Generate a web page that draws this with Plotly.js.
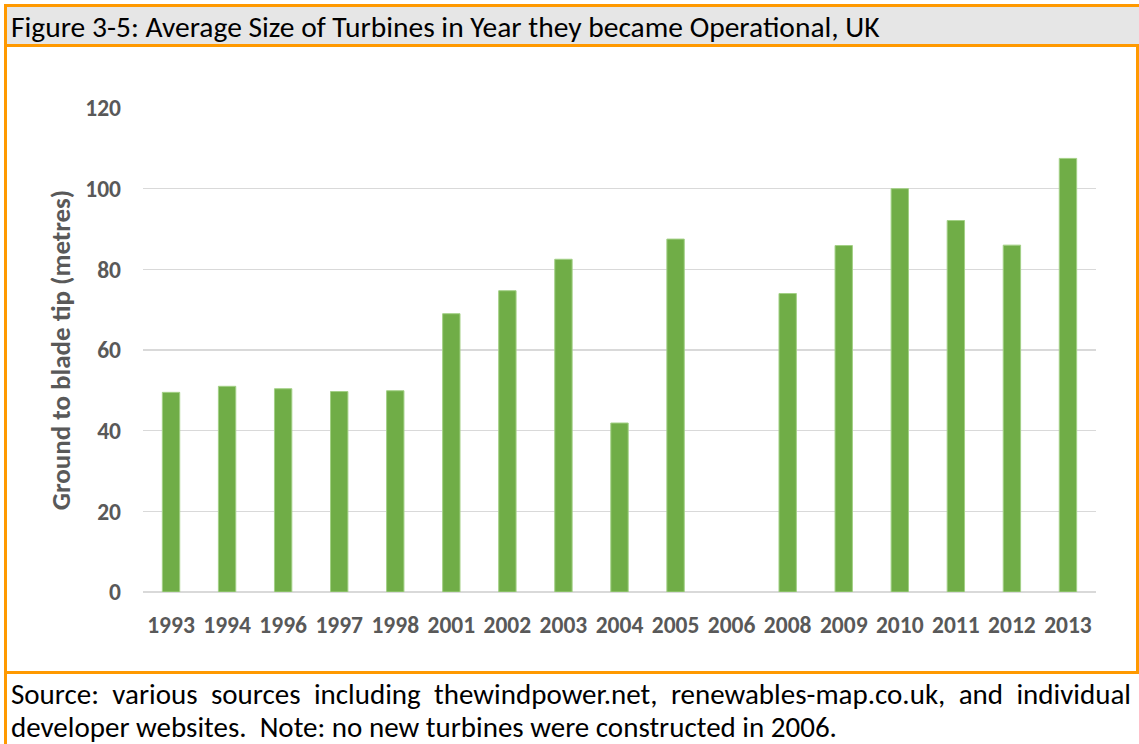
<!DOCTYPE html>
<html>
<head>
<meta charset="utf-8">
<script src="https://cdn.plot.ly/plotly-3.0.1.min.js"></script>
<style>
  html, body { margin: 0; padding: 0; background: #ffffff; }
  #chart { width: 1139px; height: 744px; }
</style>
</head>
<body>
<div id="chart"></div>
<script>
// ---- data ----
const years = ["1993","1994","1996","1997","1998","2001","2002","2003","2004","2005","2006","2008","2009","2010","2011","2012","2013"];
// 2006: no new turbines constructed -> no bar
const heights = [49.5, 51.0, 50.4, 49.7, 49.9, 69.0, 74.7, 82.5, 41.9, 87.5, null, 74.0, 85.9, 100.0, 92.1, 86.0, 107.5];
const yTicks = [0, 20, 40, 60, 80, 100, 120];
const titleText = "Figure 3-5: Average Size of Turbines in Year they became Operational, UK";
const yTitle = "Ground to blade tip (metres)";
const sourceLine1 = "Source: various sources including thewindpower.net, renewables-map.co.uk, and individual";
const sourceLine2 = "developer websites.  Note: no new turbines were constructed in 2006.";

// ---- layout geometry (pixels) ----
const W = 1139, H = 744;
const L = 143, R = 1096, T = 108, B = 592;
const px = x => (x - L) / (R - L);
const py = y => (B - y) / (B - T);
const FONT = "Carlito, Calibri, Lato, sans-serif";
const ORANGE = "#ff9900";

function rect(x0, y0, x1, y1, color) {
  return {type: "rect", xref: "paper", yref: "paper", layer: "above",
          x0: px(x0), x1: px(x1), y0: py(y1), y1: py(y0),
          fillcolor: color, line: {width: 0}};
}

const shapes = [
  rect(4, 4, W, 47, "#e6e6e6"),
  rect(4, 4, W, 7, ORANGE),
  rect(4, 44, W, 47, ORANGE),
  rect(4, 4, 7, H, ORANGE),
  rect(1136, 44, 1139, 674, ORANGE),
  rect(4, 671, W, 674, ORANGE)
];

const annotations = [
  {text: titleText, xref: "paper", yref: "paper", x: px(9), y: py(27),
   xanchor: "left", yanchor: "middle", showarrow: false,
   font: {family: FONT, size: 29.5, color: "#000000"}},
  {text: sourceLine1, xref: "paper", yref: "paper", x: px(9), y: py(694),
   xanchor: "left", yanchor: "middle", showarrow: false,
   font: {family: FONT, size: 29, color: "#000000"}},
  {text: sourceLine2, xref: "paper", yref: "paper", x: px(9), y: py(727),
   xanchor: "left", yanchor: "middle", showarrow: false,
   font: {family: FONT, size: 29, color: "#000000"}}
];

const trace = {
  type: "bar",
  x: years,
  y: heights,
  marker: {color: "#70ad47", line: {color: "#a3d086", width: 1}},
  hoverinfo: "x+y"
};

const layout = {
  width: W, height: H,
  margin: {l: L, r: W - R, t: T, b: H - B, pad: 0},
  paper_bgcolor: "#ffffff",
  plot_bgcolor: "#ffffff",
  showlegend: false,
  bargap: 0.69,
  font: {family: FONT, color: "#595959"},
  xaxis: {
    type: "category",
    showgrid: false, zeroline: false, showline: false,
    ticks: "", ticklabelstandoff: 16,
    tickfont: {family: FONT, size: 23.5, color: "#595959", weight: "bold"},
    fixedrange: true
  },
  yaxis: {
    range: [0, 120],
    tickvals: yTicks,
    ticktext: yTicks.map(String),
    showgrid: true, gridcolor: "#d9d9d9", gridwidth: 1.5,
    zeroline: true, zerolinecolor: "#d9d9d9", zerolinewidth: 1.5,
    showline: false, ticks: "", ticklabelstandoff: 21,
    tickfont: {family: FONT, size: 23.5, color: "#595959", weight: "bold"},
    title: {text: yTitle, standoff: 6,
            font: {family: FONT, size: 27, color: "#595959", weight: "bold"}},
    automargin: false,
    fixedrange: true
  },
  shapes: shapes,
  annotations: annotations
};

Plotly.newPlot("chart", [trace], layout, {displayModeBar: false, staticPlot: true}).then(gd => {
  // justify the first source line between the left margin and the right border
  gd.querySelectorAll(".annotation-text").forEach(t => {
    if (t.textContent.indexOf("Source:") === 0) {
      const bb = t.getBBox();
      const leftX = bb.x;
      const pageLeft = t.getBoundingClientRect().left;
      const targetWidth = 1131 - pageLeft;
      const gaps = (t.textContent.match(/ /g) || []).length;
      const extra = (targetWidth - bb.width) / Math.max(gaps, 1);
      t.setAttribute("text-anchor", "start");
      t.setAttribute("x", leftX);
      t.querySelectorAll("tspan").forEach(s => { if (s.hasAttribute("x")) s.setAttribute("x", leftX); });
      if (extra > 0) t.style.wordSpacing = extra.toFixed(2) + "px";
    }
  });
});
</script>
</body>
</html>
